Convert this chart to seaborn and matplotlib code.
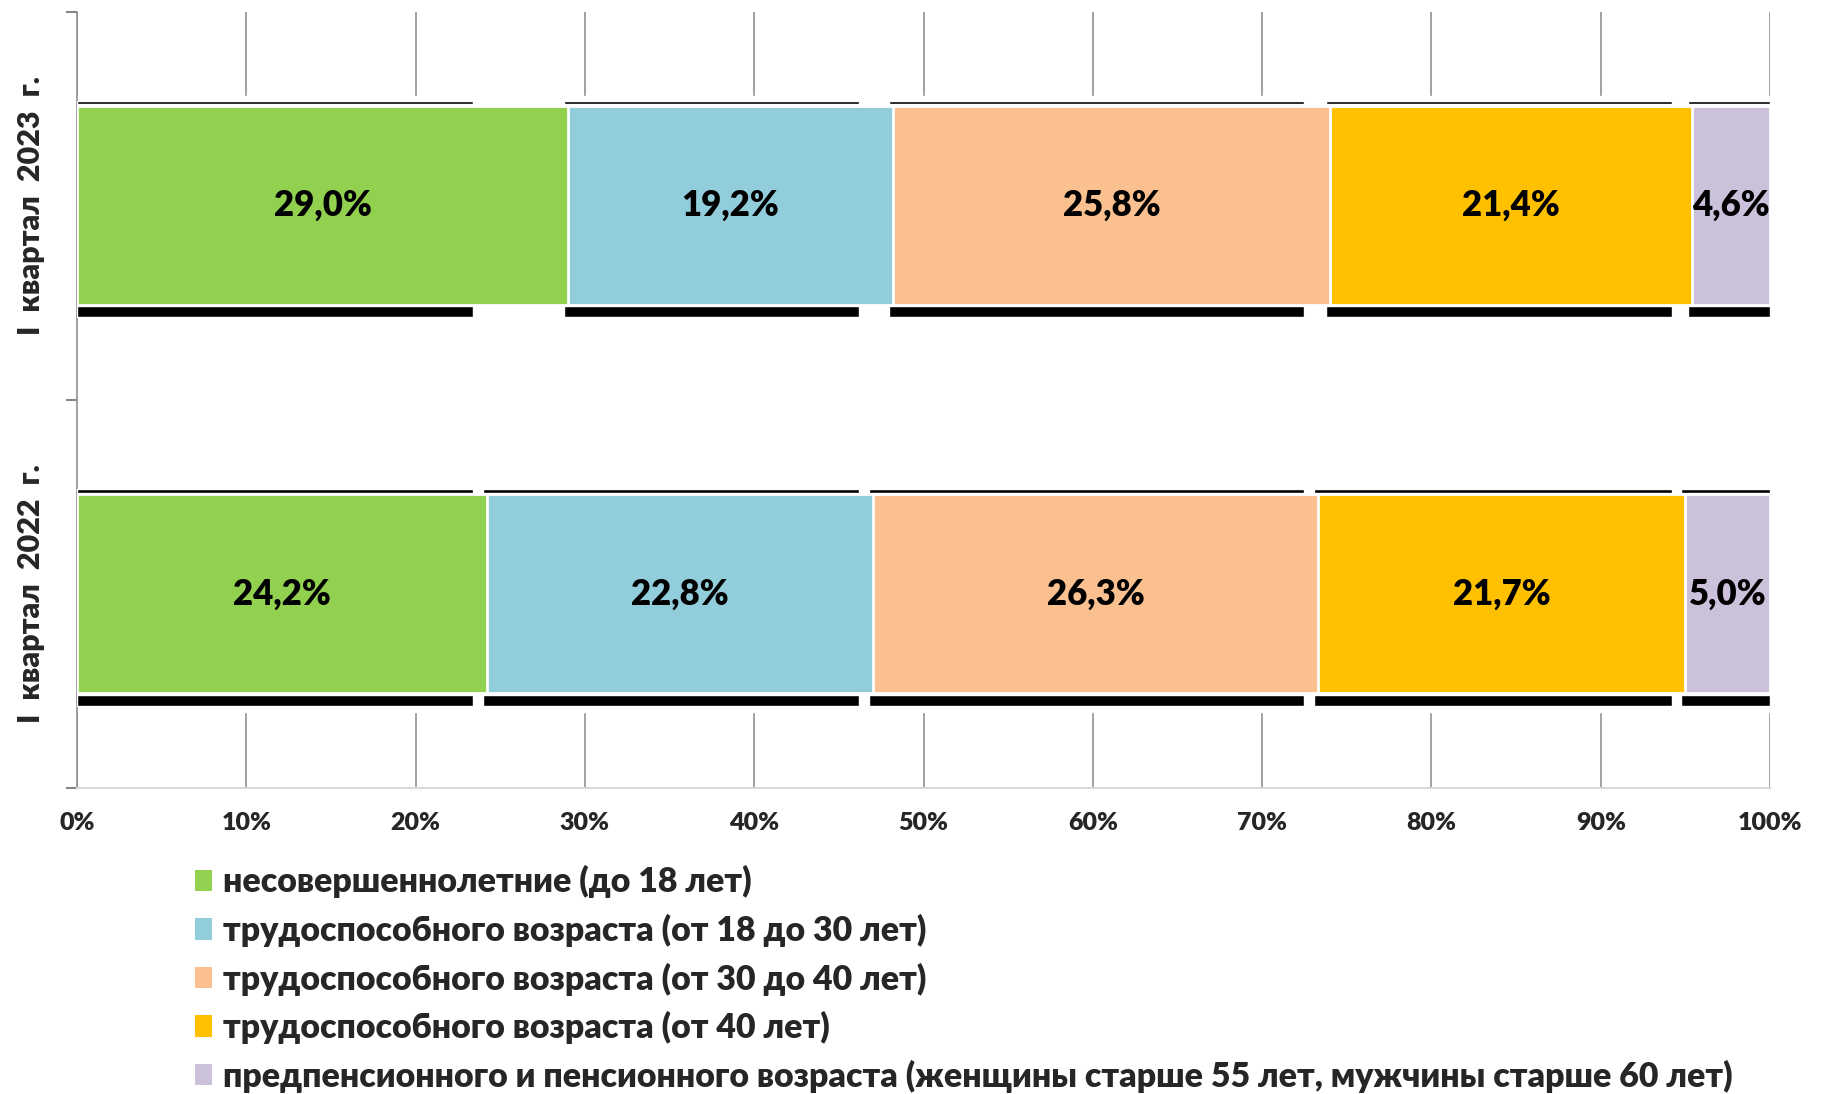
import seaborn as sns
import matplotlib.pyplot as plt
import pandas as pd
import numpy as np
from matplotlib.patches import Patch

# Data
periods = ["I  квартал  2023  г.", "I  квартал  2022  г."]
groups = [
    "несовершеннолетние (до 18 лет)",
    "трудоспособного возраста (от 18 до 30 лет)",
    "трудоспособного возраста (от 30 до 40 лет)",
    "трудоспособного возраста (от 40 лет)",
    "предпенсионного и пенсионного возраста (женщины старше 55 лет, мужчины старше 60 лет)",
]
share_2023 = [29.0, 19.2, 25.8, 21.4, 4.6]
share_2022 = [24.2, 22.8, 26.3, 21.7, 5.0]
colors = ["#92D050", "#92CDDC", "#FAC090", "#FFC000", "#CCC1DA"]

shares = np.array([share_2023, share_2022])
ends = shares.cumsum(axis=1)
starts = ends - shares

rows = []
for r, p in enumerate(periods):
    for i, g in enumerate(groups):
        rows.append({"period": p, "group": g, "share": shares[r, i],
                     "start": starts[r, i], "end": ends[r, i]})
df = pd.DataFrame(rows)

sns.set_style("white")
plt.rcParams["font.family"] = ["Lato", "DejaVu Sans"]
W = "heavy"

fig = plt.figure(figsize=(18.25, 10.94), dpi=100)
ax = fig.add_axes([0.0422, 0.2797, 0.9277, 0.7097])

bar_h = 0.513
grid_c = "#878787"

# stacked bars: draw cumulative totals from the widest down
for i in reversed(range(len(groups))):
    sub = df[df["group"] == groups[i]]
    sns.barplot(data=sub, x="end", y="period", order=periods, color=colors[i],
                saturation=1, width=bar_h, errorbar=None, edgecolor="white",
                linewidth=2, zorder=3, ax=ax)

# Excel-like 3D rim: thin line above and black strip below each segment
rim_end = ends.min(axis=0) - 0.8
rim_end[-1] = 100
for r in range(len(periods)):
    for i in range(len(groups)):
        left = starts[r, i] - 0.25 if i > 0 else 0
        w = rim_end[i] - left
        ax.barh(r + bar_h / 2 + 0.017, w, left=left, height=0.028,
                color="black", zorder=3)
        ax.barh(r - bar_h / 2 - 0.009, w, left=left, height=0.009,
                color="black", zorder=3)

# labels in the middle of each segment
for r in range(len(periods)):
    for i in range(len(groups)):
        ax.text((starts[r, i] + ends[r, i]) / 2, r,
                f"{shares[r, i]:.1f}%".replace(".", ","),
                ha="center", va="center", fontsize=25, fontweight=W,
                color="black", zorder=5)

# hide gridlines around the bars
ax.axhspan(-bar_h / 2 - 0.026, 1 + bar_h / 2 + 0.047, color="white", zorder=1)

ax.set_xlim(0, 100)
ax.set_ylim(1.5, -0.5)
ax.set_xticks(np.arange(0, 101, 10))
ax.set_xticklabels([f"{v}%" for v in range(0, 101, 10)], fontsize=18,
                   fontweight=W)
ax.set_yticks(range(len(periods)))
ax.set_yticklabels(periods, rotation=90, va="center", ha="center",
                   fontsize=22, fontweight=W)
ax.set_yticks([-0.5, 0.5, 1.5], minor=True)
ax.tick_params(axis="x", length=0, pad=17)
ax.tick_params(axis="y", which="major", length=0, pad=33)
ax.tick_params(axis="y", which="minor", left=True, length=8, width=1.5,
               color=grid_c)
ax.set_xlabel("")
ax.set_ylabel("")

ax.xaxis.grid(True, color=grid_c, linewidth=1.1)
ax.yaxis.grid(False)
ax.set_axisbelow(True)
for s in ["top", "right"]:
    ax.spines[s].set_visible(False)
ax.spines["left"].set_color(grid_c)
ax.spines["left"].set_linewidth(1.1)
ax.spines["bottom"].set_color("#d9d9d9")
ax.spines["bottom"].set_linewidth(1.5)

handles = [Patch(facecolor=c, edgecolor="none") for c in colors]
fig.legend(handles, groups, loc="upper left", bbox_to_anchor=(0.107, 0.209),
           frameon=False, handlelength=0.5, handleheight=0.6,
           handletextpad=0.33, labelspacing=0.455, borderpad=0,
           borderaxespad=0, prop={"weight": W, "size": 24.4})

plt.savefig("out.png", dpi=100)
plt.close()
